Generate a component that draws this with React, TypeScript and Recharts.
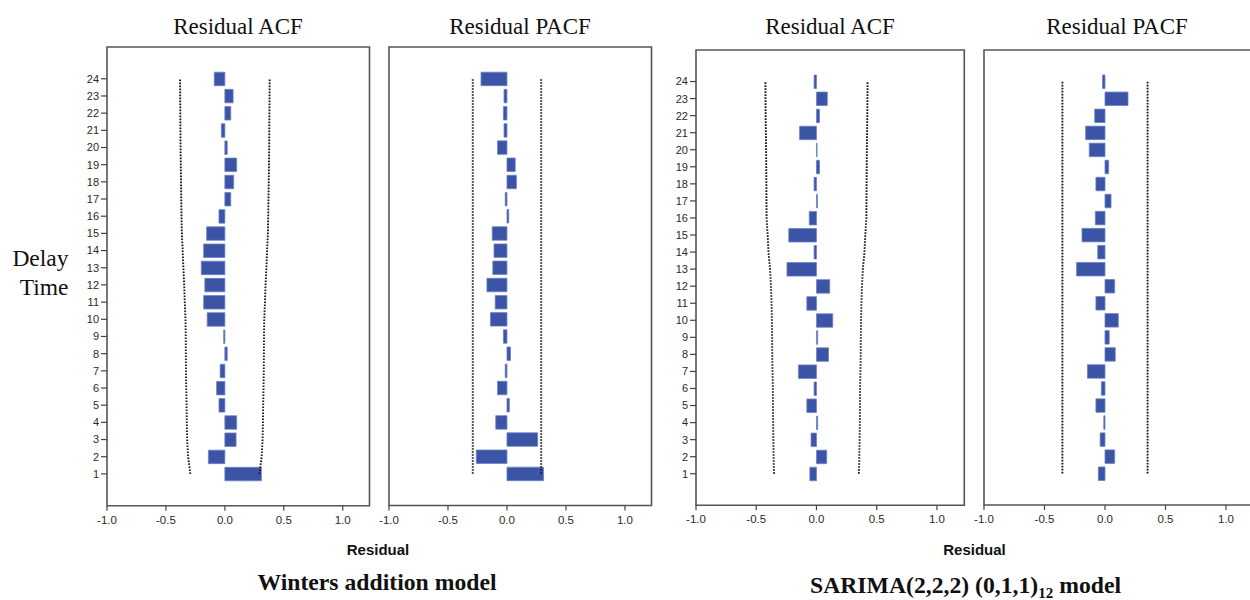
import React from 'react';
import { ComposedChart, Bar, Line, XAxis, YAxis, ReferenceArea } from 'recharts';

const lags = [1, 2, 3, 4, 5, 6, 7, 8, 9, 10, 11, 12, 13, 14, 15, 16, 17, 18, 19, 20, 21, 22, 23, 24];
const xTicks = [-1, -0.5, 0, 0.5, 1];

// Winters addition model
const wintersAcf = [0.31, -0.14, 0.095, 0.1, -0.05, -0.07, -0.04, 0.02, -0.01, -0.15, -0.18, -0.17, -0.2, -0.18, -0.155, -0.05, 0.05, 0.075, 0.1, 0.02, -0.03, 0.05, 0.07, -0.09];
const wintersAcfLimit = [0.293, 0.312, 0.32, 0.323, 0.325, 0.328, 0.33, 0.331, 0.332, 0.334, 0.34, 0.345, 0.352, 0.358, 0.365, 0.368, 0.37, 0.372, 0.374, 0.376, 0.377, 0.378, 0.379, 0.38];
const wintersPacf = [0.31, -0.26, 0.26, -0.095, 0.02, -0.08, -0.015, 0.03, -0.03, -0.14, -0.1, -0.17, -0.12, -0.11, -0.125, 0.015, -0.015, 0.08, 0.07, -0.08, -0.025, -0.03, -0.025, -0.22];
const wintersPacfLimit = [0.29, 0.29, 0.29, 0.29, 0.29, 0.29, 0.29, 0.29, 0.29, 0.29, 0.29, 0.29, 0.29, 0.29, 0.29, 0.29, 0.29, 0.29, 0.29, 0.29, 0.29, 0.29, 0.29, 0.29];

// SARIMA model
const sarimaAcf = [-0.055, 0.085, -0.045, 0.01, -0.08, -0.02, -0.15, 0.1, 0.01, 0.135, -0.08, 0.11, -0.245, -0.02, -0.23, -0.06, 0.008, -0.02, 0.025, 0.005, -0.14, 0.025, 0.09, -0.02];
const sarimaAcfLimit = [0.352, 0.356, 0.358, 0.36, 0.361, 0.362, 0.365, 0.367, 0.368, 0.37, 0.373, 0.378, 0.385, 0.398, 0.405, 0.414, 0.415, 0.416, 0.417, 0.418, 0.42, 0.422, 0.423, 0.424];
const sarimaPacf = [-0.055, 0.08, -0.04, -0.01, -0.075, -0.03, -0.145, 0.085, 0.035, 0.11, -0.075, 0.08, -0.235, -0.06, -0.19, -0.08, 0.05, -0.075, 0.03, -0.13, -0.16, -0.085, 0.19, -0.02];
const sarimaPacfLimit = [0.352, 0.352, 0.352, 0.352, 0.352, 0.352, 0.352, 0.352, 0.352, 0.352, 0.352, 0.352, 0.352, 0.352, 0.352, 0.352, 0.352, 0.352, 0.352, 0.352, 0.352, 0.352, 0.352, 0.352];

const SERIF = "'Liberation Serif', 'Times New Roman', serif";
const SANS = "'Liberation Sans', Arial, sans-serif";

const Y_MIN = -0.85;
const Y_MAX = 25.85;

type PanelProps = {
  left: number;
  top: number;
  plotW: number;
  plotH: number;
  values: number[];
  limits: number[];
  showY: boolean;
  xMax: number;
};

function Panel({ left, top, plotW, plotH, values, limits, showY, xMax }: PanelProps) {
  const YW = 45;
  const MT = 5;
  const MR = 5;
  const XH = 40;
  const data = lags.map((lag, i) => ({ lag, v: values[i], lo: -limits[i], hi: limits[i] }));
  return (
    <div style={{ position: 'absolute', left: left - YW, top: top - MT }}>
      <ComposedChart
        width={YW + plotW + MR}
        height={MT + plotH + XH}
        data={data}
        layout="vertical"
        margin={{ top: MT, right: MR, bottom: 0, left: 0 }}
      >
        <XAxis
          type="number"
          domain={[-1, xMax]}
          ticks={xTicks}
          interval={0}
          allowDataOverflow
          height={XH}
          axisLine={false}
          tickLine={{ stroke: '#444', strokeWidth: 1.2 }}
          tickSize={5}
          tickMargin={5}
          tick={{ fontSize: 11.5, fill: '#2a2a2a', fontFamily: SANS }}
          tickFormatter={(v: number) => v.toFixed(1)}
        />
        <YAxis
          type="number"
          dataKey="lag"
          domain={[Y_MIN, Y_MAX]}
          ticks={lags}
          interval={0}
          allowDataOverflow
          reversed
          width={YW}
          axisLine={false}
          tickLine={showY ? { stroke: '#444', strokeWidth: 1.2 } : false}
          tickSize={6}
          tickMargin={2}
          tick={showY ? { fontSize: 11, fill: '#2a2a2a', fontFamily: SANS } : false}
        />
        <ReferenceArea
          x1={-1}
          x2={xMax}
          y1={Y_MIN}
          y2={Y_MAX}
          fill="none"
          stroke="#555"
          strokeWidth={1.6}
          ifOverflow="visible"
        />
        <Bar dataKey="v" barSize={13.5} fill="#3C54A6" stroke="#6F82C8" strokeWidth={0.8} isAnimationActive={false} />
        <Line dataKey="lo" type="linear" stroke="#1a1a1a" strokeWidth={1.9} strokeDasharray="1.6 1.4" dot={false} activeDot={false} isAnimationActive={false} />
        <Line dataKey="hi" type="linear" stroke="#1a1a1a" strokeWidth={1.9} strokeDasharray="1.6 1.4" dot={false} activeDot={false} isAnimationActive={false} />
      </ComposedChart>
    </div>
  );
}

export default function App() {
  return (
    <div style={{ position: 'fixed', left: 0, top: 0, width: 1250, height: 600, overflow: 'hidden', background: '#fff' }}>
      <svg width={1250} height={600} style={{ position: 'absolute', left: 0, top: 0 }}>
        <g fontFamily={SERIF} fontSize={23} fill="#111" textAnchor="middle">
          <text x={238} y={33.5}>Residual ACF</text>
          <text x={520} y={33.5}>Residual PACF</text>
          <text x={830} y={33.5}>Residual ACF</text>
          <text x={1117} y={33.5}>Residual PACF</text>
        </g>
        <g fontFamily={SERIF} fontSize={23.5} fill="#111" textAnchor="end">
          <text x={68.5} y={266}>Delay</text>
          <text x={68.5} y={294.5}>Time</text>
        </g>
        <g fontFamily={SANS} fontSize={15} fontWeight="bold" fill="#111" textAnchor="middle">
          <text x={378} y={554.5}>Residual</text>
          <text x={974.5} y={554.5}>Residual</text>
        </g>
        <g fontFamily={SERIF} fontSize={23.7} fontWeight="bold" fill="#111" textAnchor="middle">
          <text x={377} y={590}>Winters addition model</text>
          <text x={965.5} y={593}>
            SARIMA(2,2,2) (0,1,1)<tspan fontSize={15} dy={5}>12</tspan>
            <tspan dy={-5}> model</tspan>
          </text>
        </g>
      </svg>
      <Panel left={106.5} top={47} plotW={262.5} plotH={458.7} values={wintersAcf} limits={wintersAcfLimit} showY xMax={1.227} />
      <Panel left={388.5} top={47} plotW={262.5} plotH={458.5} values={wintersPacf} limits={wintersPacfLimit} showY={false} xMax={1.225} />
      <Panel left={695.7} top={50} plotW={268.3} plotH={455.3} values={sarimaAcf} limits={sarimaAcfLimit} showY xMax={1.227} />
      <Panel left={984.3} top={50} plotW={268} plotH={455} values={sarimaPacf} limits={sarimaPacfLimit} showY={false} xMax={1.215} />
    </div>
  );
}
